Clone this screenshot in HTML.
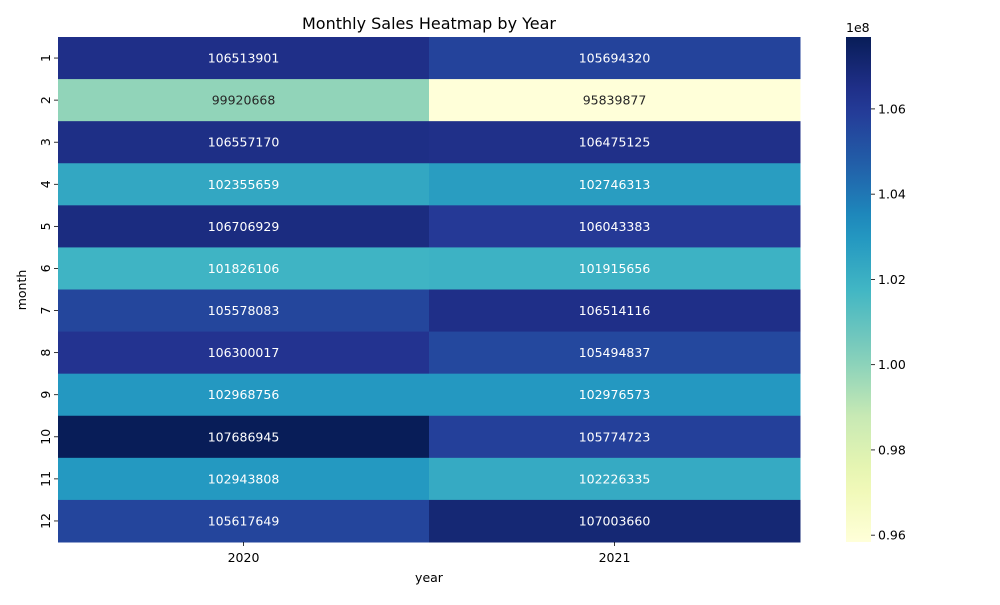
<!DOCTYPE html>
<html><head><meta charset="utf-8"><style>
body{margin:0;background:#fff;font-family:"Liberation Sans","DejaVu Sans",sans-serif}
svg text{font-family:"DejaVu Sans","Liberation Sans",sans-serif}
</style></head><body>
<svg id="c" width="1000" height="600" xmlns="http://www.w3.org/2000/svg"></svg>
<script>
const months = ["1","2","3","4","5","6","7","8","9","10","11","12"];
const years = ["2020","2021"];
const sales2020 = [106513901,99920668,106557170,102355659,106706929,101826106,105578083,106300017,102968756,107686945,102943808,105617649];
const sales2021 = [105694320,95839877,106475125,102746313,106043383,101915656,106514116,105494837,102976573,105774723,102226335,107003660];
const cbTicks = [0.96,0.98,1.00,1.02,1.04,1.06];
const series=[sales2020,sales2021];
const svg=document.getElementById('c');const NS="http://www.w3.org/2000/svg";
function mk(t,a,p){const e=document.createElementNS(NS,t);for(const k in a)e.setAttribute(k,a[k]);(p||svg).appendChild(e);return e;}
const X0=58,X1=800,Y0=37,Y1=542;
const all=sales2020.concat(sales2021);const vmin=Math.min(...all),vmax=Math.max(...all);
const stops=["#ffffd9","#edf8b1","#c7e9b4","#7fcdbb","#41b6c4","#1d91c0","#225ea8","#253494","#081d58"].map(h=>[1,3,5].map(i=>parseInt(h.substr(i,2),16)));
function cmap(t){t=Math.max(0,Math.min(1,t))*(stops.length-1);const i=Math.min(Math.floor(t),stops.length-2),f=t-i;return stops[i].map((c,k)=>Math.round(c+(stops[i+1][k]-c)*f));}
function lin(c){c/=255;return c<=0.03928?c/12.92:Math.pow((c+0.055)/1.055,2.4);}
const colW=(X1-X0)/years.length,rowH=(Y1-Y0)/months.length;
const xPos=i=>X0+i*colW, yPos=j=>Y0+j*rowH;
series.forEach((s,i)=>s.forEach((v,j)=>{
 const c=cmap((v-vmin)/(vmax-vmin));
 const r=mk('rect',{x:xPos(i),y:yPos(j),width:colW+0.5,height:rowH+0.5,fill:`rgb(${c})`});
 
 
 const lum=0.2126*lin(c[0])+0.7152*lin(c[1])+0.0722*lin(c[2]);
 const t=mk('text',{x:xPos(i)+colW/2,y:yPos(j)+rowH/2+4.5,'text-anchor':'middle','font-size':12.5,fill:lum>0.408?'#262626':'#fff'});
 t.textContent=v;
 
 
}));
months.forEach((m,j)=>{const y=yPos(j)+rowH/2;mk('line',{x1:X0-4,x2:X0,y1:y,y2:y,stroke:'#000','stroke-width':0.8});
 const t=mk('text',{x:0,y:0,transform:`translate(${X0-8},${y}) rotate(-90)`,'text-anchor':'middle','font-size':12.5,fill:'#000'});t.textContent=m;
 
 });
years.forEach((yr,i)=>{const x=xPos(i)+colW/2;mk('line',{x1:x,x2:x,y1:Y1,y2:Y1+4,stroke:'#000','stroke-width':0.8});
 const t=mk('text',{x:x,y:Y1+20,'text-anchor':'middle','font-size':12.5,fill:'#000'});t.textContent=yr;
 
 });
let t=mk('text',{x:429,y:582,'text-anchor':'middle','font-size':12.5});t.textContent='year';

t=mk('text',{x:0,y:0,transform:'translate(26,290) rotate(-90)','text-anchor':'middle','font-size':12.5});t.textContent='month';

t=mk('text',{x:429,y:29,'text-anchor':'middle','font-size':16});t.textContent='Monthly Sales Heatmap by Year';

const CX=846,CW=25;const defs=mk('defs',{});const g=mk('linearGradient',{id:'cb',x1:0,y1:1,x2:0,y2:0},defs);
for(let k=0;k<=20;k++){const c=cmap(k/20);mk('stop',{offset:k/20,'stop-color':`rgb(${c})`},g);}
const cb=mk('rect',{x:CX,y:Y0,width:CW,height:Y1-Y0,fill:'url(#cb)'});

const cy=v=>Y1-(v-vmin)/(vmax-vmin)*(Y1-Y0);
cbTicks.forEach(tv=>{const y=cy(tv*1e8);mk('line',{x1:CX+CW,x2:CX+CW+4,y1:y,y2:y,stroke:'#000','stroke-width':0.8});
 const tt=mk('text',{x:CX+CW+7,y:y+4.5,'font-size':12.5});tt.textContent=tv.toFixed(2);
 });
t=mk('text',{x:846,y:32,'font-size':12.5});t.textContent='1e8';

</script></body></html>
